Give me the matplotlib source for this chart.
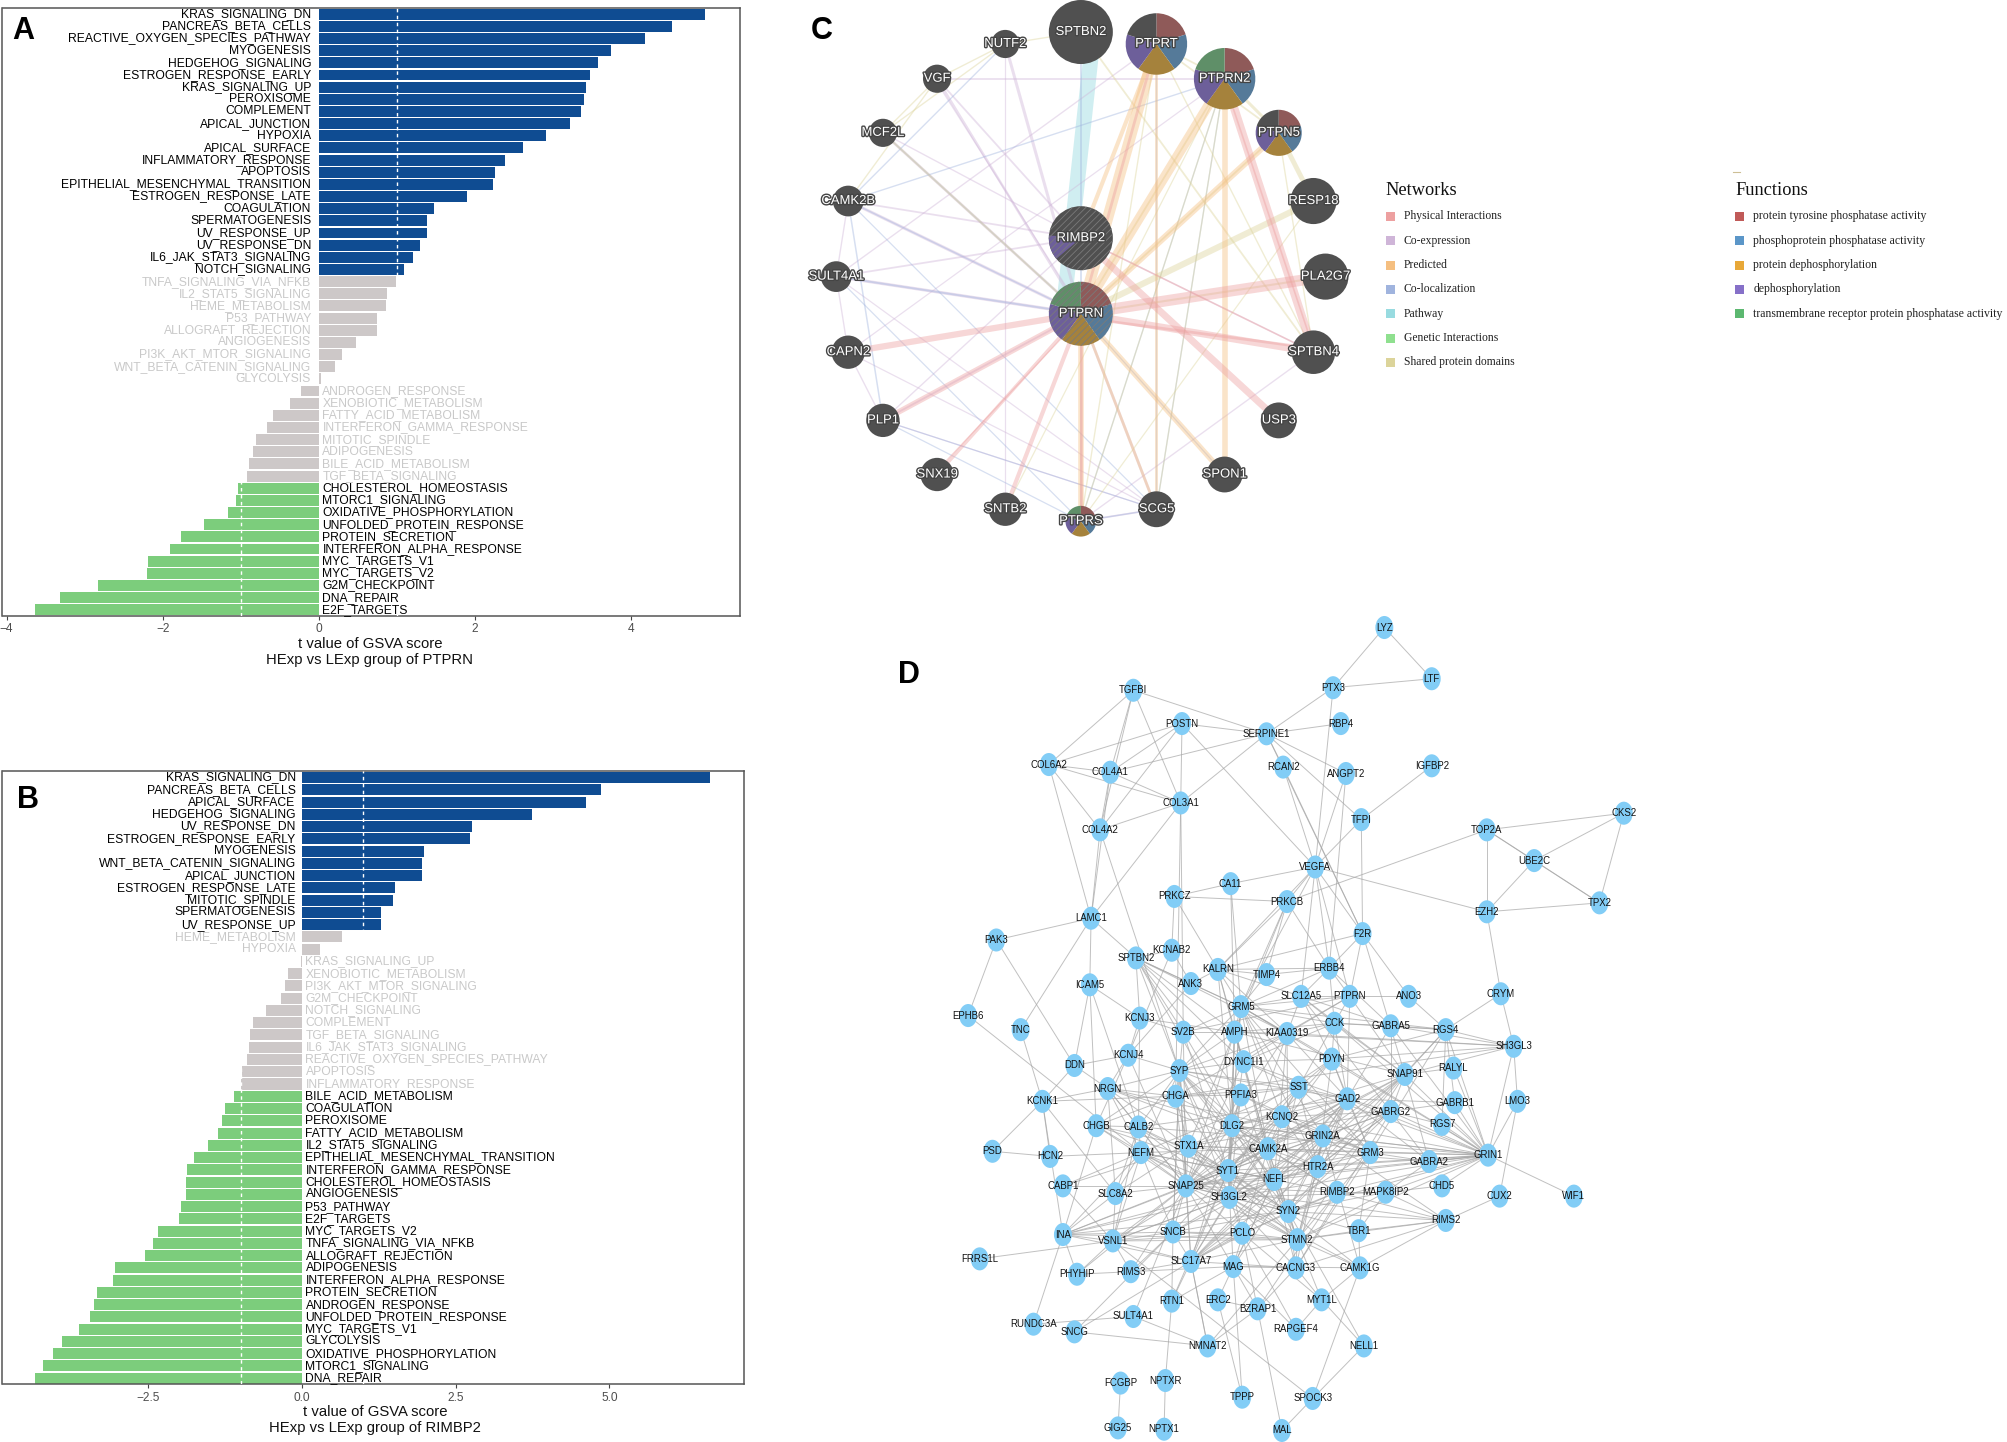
import numpy as np
import matplotlib
matplotlib.use("Agg")
import matplotlib.pyplot as plt
import matplotlib.patheffects as pe
from matplotlib.patches import Wedge, Ellipse, Circle, Rectangle

plt.rcParams['font.family'] = ['Liberation Sans', 'DejaVu Sans']
plt.rcParams['hatch.linewidth'] = 0.6

# ---------- Panel A data ----------
a_terms = ["KRAS_SIGNALING_DN","PANCREAS_BETA_CELLS","REACTIVE_OXYGEN_SPECIES_PATHWAY","MYOGENESIS","HEDGEHOG_SIGNALING",
 "ESTROGEN_RESPONSE_EARLY","KRAS_SIGNALING_UP","PEROXISOME","COMPLEMENT","APICAL_JUNCTION","HYPOXIA","APICAL_SURFACE",
 "INFLAMMATORY_RESPONSE","APOPTOSIS","EPITHELIAL_MESENCHYMAL_TRANSITION","ESTROGEN_RESPONSE_LATE","COAGULATION",
 "SPERMATOGENESIS","UV_RESPONSE_UP","UV_RESPONSE_DN","IL6_JAK_STAT3_SIGNALING","NOTCH_SIGNALING","TNFA_SIGNALING_VIA_NFKB",
 "IL2_STAT5_SIGNALING","HEME_METABOLISM","P53_PATHWAY","ALLOGRAFT_REJECTION","ANGIOGENESIS","PI3K_AKT_MTOR_SIGNALING",
 "WNT_BETA_CATENIN_SIGNALING","GLYCOLYSIS","ANDROGEN_RESPONSE","XENOBIOTIC_METABOLISM","FATTY_ACID_METABOLISM",
 "INTERFERON_GAMMA_RESPONSE","MITOTIC_SPINDLE","ADIPOGENESIS","BILE_ACID_METABOLISM","TGF_BETA_SIGNALING",
 "CHOLESTEROL_HOMEOSTASIS","MTORC1_SIGNALING","OXIDATIVE_PHOSPHORYLATION","UNFOLDED_PROTEIN_RESPONSE","PROTEIN_SECRETION",
 "INTERFERON_ALPHA_RESPONSE","MYC_TARGETS_V1","MYC_TARGETS_V2","G2M_CHECKPOINT","DNA_REPAIR","E2F_TARGETS"]
a_values = [4.95,4.52,4.17,3.745,3.58,3.47,3.42,3.40,3.35,3.21,2.91,2.615,2.38,2.26,2.23,1.89,1.48,1.39,1.385,1.30,1.20,1.09,
 0.99,0.87,0.865,0.745,0.74,0.47,0.30,0.20,0.03,-0.235,-0.37,-0.59,-0.67,-0.80,-0.85,-0.90,-0.925,
 -1.03,-1.06,-1.16,-1.47,-1.76,-1.91,-2.19,-2.20,-2.83,-3.32,-3.63]

# ---------- Panel B data ----------
b_terms = ["KRAS_SIGNALING_DN","PANCREAS_BETA_CELLS","APICAL_SURFACE","HEDGEHOG_SIGNALING","UV_RESPONSE_DN",
 "ESTROGEN_RESPONSE_EARLY","MYOGENESIS","WNT_BETA_CATENIN_SIGNALING","APICAL_JUNCTION","ESTROGEN_RESPONSE_LATE",
 "MITOTIC_SPINDLE","SPERMATOGENESIS","UV_RESPONSE_UP","HEME_METABOLISM","HYPOXIA","KRAS_SIGNALING_UP","XENOBIOTIC_METABOLISM",
 "PI3K_AKT_MTOR_SIGNALING","G2M_CHECKPOINT","NOTCH_SIGNALING","COMPLEMENT","TGF_BETA_SIGNALING","IL6_JAK_STAT3_SIGNALING",
 "REACTIVE_OXYGEN_SPECIES_PATHWAY","APOPTOSIS","INFLAMMATORY_RESPONSE","BILE_ACID_METABOLISM","COAGULATION","PEROXISOME",
 "FATTY_ACID_METABOLISM","IL2_STAT5_SIGNALING","EPITHELIAL_MESENCHYMAL_TRANSITION","INTERFERON_GAMMA_RESPONSE",
 "CHOLESTEROL_HOMEOSTASIS","ANGIOGENESIS","P53_PATHWAY","E2F_TARGETS","MYC_TARGETS_V2","TNFA_SIGNALING_VIA_NFKB",
 "ALLOGRAFT_REJECTION","ADIPOGENESIS","INTERFERON_ALPHA_RESPONSE","PROTEIN_SECRETION","ANDROGEN_RESPONSE",
 "UNFOLDED_PROTEIN_RESPONSE","MYC_TARGETS_V1","GLYCOLYSIS","OXIDATIVE_PHOSPHORYLATION","MTORC1_SIGNALING","DNA_REPAIR"]
b_values = [6.64,4.86,4.62,3.75,2.77,2.74,1.98,1.95,1.95,1.51,1.48,1.29,1.28,0.65,0.30,-0.01,-0.23,-0.27,-0.34,-0.58,-0.80,-0.85,
 -0.86,-0.89,-0.98,-0.99,-1.10,-1.26,-1.31,-1.36,-1.53,-1.76,-1.87,-1.88,-1.885,-1.97,-2.0,-2.34,-2.43,-2.56,-3.04,-3.08,
 -3.33,-3.39,-3.45,-3.63,-3.91,-4.05,-4.22,-4.35]

# ---------- Panel C data ----------
ring_genes = ["SPTBN2","PTPRT","PTPRN2","PTPN5","RESP18","PLA2G7","SPTBN4","USP3","SPON1","SCG5","PTPRS","SNTB2","SNX19",
              "PLP1","CAPN2","SULT4A1","CAMK2B","MCF2L","VGF","NUTF2"]
centre_genes = ["RIMBP2","PTPRN"]
gene_radius = {"SPTBN2":25,"PTPRT":24,"PTPRN2":24,"PTPN5":18,"RESP18":18,"PLA2G7":18,"SPTBN4":17,"USP3":14,"SPON1":14,
 "SCG5":14,"PTPRS":12,"SNTB2":13,"SNX19":13,"PLP1":13,"CAPN2":13,"SULT4A1":12,"CAMK2B":12,"MCF2L":11,"VGF":11,"NUTF2":11,
 "RIMBP2":25,"PTPRN":25}
network_names = ["Physical Interactions","Co-expression","Predicted","Co-localization","Pathway","Genetic Interactions","Shared protein domains"]
network_colors = ["#eda0a0","#cfb5d8","#f5bf80","#a0b4de","#98dbe0","#8fe08f","#dcd49a"]
function_names = ["protein tyrosine phosphatase activity","phosphoprotein phosphatase activity","protein dephosphorylation",
                  "dephosphorylation","transmembrane receptor protein phosphatase activity"]
function_colors = ["#c05a58","#5b96c8","#e8a838","#8670c8","#5cb870"]
node_dark = "#505050"
node_slices = {
 "PTPRN":  ["#8f5a59","#557a99","#a5823c","#6d5f9a","#5f8f68"],
 "PTPRN2": ["#8f5a59","#557a99","#a5823c","#6d5f9a","#5f8f68"],
 "PTPRS":  ["#8f5a59","#557a99","#a5823c","#6d5f9a","#5f8f68"],
 "PTPRT":  ["#8f5a59","#557a99","#a5823c","#6d5f9a",node_dark],
 "PTPN5":  ["#8f5a59","#557a99","#a5823c","#6d5f9a",node_dark],
}
edges_physical = [("PTPRN","PLA2G7",8),("PTPRN","SPTBN4",5),("PTPRN","SPTBN4",2),("PTPRN","CAPN2",4.5),("PTPRN","PLP1",4),
 ("PTPRN","SNX19",2.5),("PTPRN","SNTB2",3),("RIMBP2","USP3",5),("PTPRN2","SPTBN4",6),("PTPRN","PTPRT",2),("PTPRN","PTPRS",2),
 ("PTPRN2","SPTBN4",1.2),("RIMBP2","SPTBN4",1.2),("PTPRN","SNX19",1)]
edges_predicted = [("PTPRN","PTPRT",8),("PTPRN","PTPRN2",7),("PTPRN","PTPN5",4.5),("PTPRN2","SPON1",4),("PTPRN","SPON1",4),
 ("PTPRN","PTPRS",4),("PTPRT","SCG5",2),("PTPRT","RIMBP2",3),("PTPRN","SCG5",2)]
edges_pathway = [("SPTBN2","PTPRN",11)]
edges_coexpr = [("VGF","PTPRN",1.8),("VGF","PTPRN",1),("NUTF2","PTPRN",2.2),("MCF2L","PTPRN",2),("CAMK2B","PTPRN",2.2),
 ("SULT4A1","PTPRN",2.2),("SCG5","PTPRN",2),("PTPRS","SCG5",1.3),("VGF","PTPRN2",1.3),("VGF","RIMBP2",1.3),("SULT4A1","RIMBP2",1.3),
 ("CAMK2B","SULT4A1",1),("SULT4A1","CAPN2",1),("CAPN2","PLP1",1),("PLP1","PTPRN",1.3),("PLP1","RIMBP2",1),
 ("SPTBN4","PTPRS",1),("PTPRT","SULT4A1",1),("MCF2L","RIMBP2",1),("CAMK2B","RIMBP2",1.3),("PTPRN2","CAPN2",0.9),
 ("CAPN2","SCG5",0.9),("PTPRS","PTPRN",1.3),("RIMBP2","SPTBN4",1),("SULT4A1","SCG5",0.9),("NUTF2","SNTB2",0.9),("PLP1","SCG5",0.9)]
edges_coloc = [("SPTBN2","PTPRN",1.3),("NUTF2","CAMK2B",1),("PTPRN2","CAMK2B",1),("CAMK2B","PLP1",1.1),("SULT4A1","PTPRS",0.9),
 ("CAMK2B","SCG5",0.9),("PLP1","SCG5",0.9),("PLP1","PTPRS",0.9),("PTPRT","SCG5",1),("SULT4A1","PTPRN",1.3),("CAMK2B","PTPRN",1),
 ("PTPRN2","PTPRS",0.9),("PTPRS","SCG5",1),("PTPRN2","SCG5",0.9),("MCF2L","PTPRN",0.9),("SPON1","PTPRN",0.9)]
edges_domain = [("NUTF2","SPTBN2",1),("VGF","NUTF2",1),("MCF2L","VGF",1),("MCF2L","NUTF2",1),("CAMK2B","VGF",1),
 ("MCF2L","PTPRN",1.5),("PTPN5","RESP18",3.5),("RESP18","PTPRN",4.5),("PLA2G7","PTPRN",1.5),("PTPRT","PTPN5",1.3),("PTPRN2","PTPN5",2.2),
 ("PTPRN2","PTPRS",1),("PTPRT","PTPRS",1),("SPTBN2","SPTBN4",1.3),("PTPRT","SPTBN4",1),("PTPRN2","SCG5",1),
 ("PTPN5","PTPRN",1.3),("PTPRT","PTPRN2",1.3),("PTPRN2","SNTB2",0.9),("PTPRN2","PTPRN",1.3),("PTPN5","SPTBN4",1),("RESP18","PTPRS",0.9)]

# ---------- Panel D data ----------
gene_names = ["LYZ","LTF","PTX3","TGFBI","POSTN","SERPINE1","RBP4","COL6A2","COL4A1","RCAN2","ANGPT2","IGFBP2","COL3A1","TFPI","COL4A2",
 "TOP2A","CKS2","UBE2C","VEGFA","CA11","PRKCZ","PRKCB","EZH2","TPX2","LAMC1","PAK3","F2R","KCNAB2","SPTBN2","KALRN","TIMP4","ERBB4",
 "ANK3","ICAM5","SLC12A5","PTPRN","ANO3","CRYM","GRM5","EPHB6","TNC","KCNJ3","SV2B","AMPH","KIAA0319","CCK","GABRA5","RGS4","SH3GL3",
 "DDN","KCNJ4","SYP","DYNC1I1","PDYN","SNAP91","RALYL","KCNK1","NRGN","CHGA","PPFIA3","SST","GAD2","GABRG2","GABRB1","LMO3","CHGB",
 "CALB2","DLG2","KCNQ2","RGS7","STX1A","GRIN2A","CAMK2A","GRM3","GABRA2","GRIN1","PSD","HCN2","NEFM","SYT1","HTR2A","NEFL","SNAP25",
 "CABP1","SLC8A2","SH3GL2","RIMBP2","MAPK8IP2","CHD5","CUX2","WIF1","SYN2","RIMS2","INA","VSNL1","SNCB","PCLO","STMN2","TBR1","FRRS1L",
 "SLC17A7","MAG","CACNG3","CAMK1G","PHYHIP","RIMS3","RTN1","ERC2","BZRAP1","MYT1L","RUNDC3A","SULT4A1","SNCG","RAPGEF4","NMNAT2","NELL1",
 "FCGBP","NPTXR","TPPP","SPOCK3","GIG25","NPTX1","MAL"]
gene_x = [1081,1118,1041,885,923,989,1047,819,867,1002,1051,1118,922,1063,859,1161,1268,1198,1027,961,917,1005,1161,1249,852,778,1064,915,887,951,989,1038,
 930,851,1016,1054,1100,1172,969,756,797,890,924,964,1005,1042,1086,1129,1182,839,881,921,971,1040,1097,1135,814,865,918,969,1014,1052,1086,1136,1185,856,
 889,962,1001,1126,928,1033,990,1070,1116,1162,775,820,891,959,1029,995,926,830,871,960,1044,1082,1126,1171,1229,1006,1129,830,869,916,970,1013,1061,765,
 930,963,1012,1062,841,883,915,951,982,1032,807,885,839,1012,943,1065,875,910,970,1025,873,909,1001]
gene_y = [490,530,537,539,565,573,565,597,603,599,604,598,627,640,648,648,635,672,677,690,700,704,712,705,717,734,729,742,748,757,761,756,
 768,769,778,778,778,776,786,793,804,795,806,806,807,799,801,804,817,832,824,836,829,827,839,834,860,850,856,855,849,858,868,861,860,879,
 880,879,872,878,895,887,897,900,907,902,899,903,900,914,911,921,926,926,932,935,931,931,926,934,934,946,953,964,969,962,963,968,961,983,
 985,989,990,990,995,993,1016,1015,1022,1015,1034,1028,1040,1038,1051,1051,1080,1078,1091,1092,1115,1116,1117]
gene_links = {
 "LYZ":"PTX3 LTF","PTX3":"LTF SERPINE1 VEGFA","SERPINE1":"RBP4 TGFBI POSTN COL4A1 COL3A1 RCAN2 ANGPT2 TFPI F2R",
 "TGFBI":"COL6A2 COL4A1 COL4A2 COL3A1","POSTN":"COL6A2 COL4A1 COL3A1 COL4A2 VEGFA","COL6A2":"COL4A1 COL3A1 COL4A2 LAMC1",
 "COL4A1":"COL3A1 COL4A2 LAMC1","COL3A1":"COL4A2 LAMC1 SV2B CHGA","COL4A2":"LAMC1 SYP","RCAN2":"VEGFA F2R","ANGPT2":"VEGFA ERBB4",
 "IGFBP2":"TFPI","TFPI":"VEGFA F2R","TOP2A":"CKS2 UBE2C TPX2 EZH2 PRKCB","CKS2":"UBE2C TPX2","UBE2C":"TPX2 EZH2","EZH2":"TPX2 VEGFA CRYM",
 "VEGFA":"CA11 PRKCB F2R KALRN GRM5 ERBB4 SLC12A5 PTPRN","CA11":"PRKCZ AMPH GRM5","PRKCZ":"PRKCB KCNAB2 KALRN",
 "PRKCB":"KALRN GRM5 ERBB4 TIMP4 AMPH","LAMC1":"PAK3 ICAM5 SPTBN2 TNC","PAK3":"EPHB6 DDN","EPHB6":"NEFM","TNC":"KCNK1",
 "KCNAB2":"SPTBN2 ANK3 KCNJ4","F2R":"ANO3 PTPRN KALRN ERBB4 SNAP91","CRYM":"RGS4 SH3GL3",
 "GRIN1":"GABRA2 GRM3 CAMK2A GRIN2A HTR2A SNAP91 GAD2 GABRG2 SNAP25 SYT1 RIMBP2 MAPK8IP2 CHD5 SYN2 STMN2 GABRA5 RGS4 RGS7 GABRB1 WIF1 LMO3 NEFL SH3GL2 DLG2 KCNQ2 CALB2 GRM5 PDYN CCK SST RALYL",
 "LMO3":"SH3GL3 CUX2","CUX2":"RIMS2","RIMS2":"CAMK1G STMN2 SYN2 TBR1 CACNG3 MAPK8IP2 RIMBP2 SNAP25",
 "SNAP25":"SYT1 SH3GL2 SYN2 STMN2 SNCB VSNL1 INA SLC17A7 CAMK2A DLG2 STX1A SYP CHGA CHGB CALB2 NEFM NEFL HTR2A GRIN2A GAD2 SNAP91 GRM3 GABRG2 KCNQ2 PPFIA3 AMPH DYNC1I1 SV2B PCLO MAG RIMBP2 RIMS3 PHYHIP SLC8A2 CABP1 NRGN KIAA0319 SST",
 "SYT1":"STX1A SYP SV2B AMPH DLG2 CAMK2A SH3GL2 SNCB PCLO SLC17A7 SYN2 NEFL KCNQ2 PPFIA3 CHGA CHGB GAD2 SNAP91 RIMBP2 STMN2 MAG VSNL1 INA GRM5 PDYN SST DYNC1I1 CALB2 NEFM",
 "CAMK2A":"GRIN2A DLG2 SYN2 KCNQ2 HTR2A NEFL GRM3 GABRA2 SYP STX1A NRGN NEFM SH3GL2 MAG STMN2 RIMBP2 GAD2 GRM5 AMPH KALRN",
 "SLC17A7":"SYN2 STMN2 SNCB VSNL1 RTN1 GAD2 GRM3 CACNG3 PCLO SH3GL2 SYP INA GABRG2 GRIN2A SNAP91 DLG2 NMNAT2 SST",
 "GAD2":"GABRG2 GABRA2 GABRA5 SST PDYN CCK SYP DYNC1I1 CALB2 DLG2 STMN2 HTR2A GRM3 NEFL GRIN2A KIAA0319 SYN2 GABRB1 MAG",
 "GABRG2":"GABRA2 GABRA5 GABRB1 GRIN2A HTR2A KCNQ2 STX1A CACNG3 SYN2 RGS7 NEFL",
 "GRIN2A":"DLG2 HTR2A GRM3 KCNQ2 SYN2 CAMK1G CACNG3 GRM5 NRGN RIMS2 STMN2 SH3GL2",
 "GRM5":"KALRN ANK3 AMPH KIAA0319 SPTBN2 TIMP4 SLC12A5 CCK PDYN SYP KCNQ2 GRM3 HTR2A SV2B ERBB4 PTPRN DLG2 RGS4",
 "SPTBN2":"ANK3 KIAA0319 AMPH DLG2 PPFIA3 SV2B SYP KCNJ3 DYNC1I1","KALRN":"ANK3 TIMP4 ERBB4 AMPH KIAA0319 SLC12A5 DLG2",
 "ERBB4":"PTPRN SLC12A5 TIMP4 CCK GABRA5","PTPRN":"ANO3 SLC12A5 CCK KIAA0319 GAD2 SNAP91 SV2B CHGA",
 "SLC12A5":"CCK PDYN KIAA0319 GABRA5 GABRG2 SNAP91","CCK":"PDYN SST GABRA5 RGS4 AMPH KIAA0319 SNAP91 DYNC1I1","ANO3":"RGS4",
 "SH3GL3":"SNAP91 RGS4 GABRA5 KIAA0319 PDYN AMPH CHGA GRIN1","SNAP91":"GABRA2 GABRG2 RGS4 RALYL AMPH DLG2 SH3GL2 NEFL SYN2 STMN2",
 "RGS4":"GABRA5 GABRB1 GRM3 RGS7 HTR2A PDYN","KCNK1":"DDN NRGN HCN2 PSD INA CHGA SLC8A2","PSD":"HCN2","HCN2":"NEFM","DDN":"KCNJ4 NRGN ICAM5",
 "KCNJ3":"KCNJ4 SV2B CALB2 AMPH","KCNJ4":"SYP NRGN CHGB SNAP25 ANK3","ICAM5":"KCNJ3 CHGB CALB2","NRGN":"CHGA CALB2 STX1A NEFM SLC8A2 DLG2",
 "CHGB":"CHGA CALB2 INA NEFM SYP STX1A","CHGA":"SYP STX1A DLG2 PPFIA3 SST","CABP1":"NEFM STX1A VSNL1","SLC8A2":"VSNL1 STX1A CALB2 NEFM INA",
 "INA":"VSNL1 NEFM NEFL SNCB STMN2 RUNDC3A PHYHIP SYN2","VSNL1":"FRRS1L SNCB PHYHIP RIMS3 CALB2 SH3GL2 PCLO STMN2 SPOCK3","RUNDC3A":"SULT4A1",
 "SNCG":"NMNAT2 SNCB SLC17A7","SULT4A1":"NMNAT2 SNAP25","SNCB":"RTN1 NEFL SYP PCLO STMN2 SYN2","RTN1":"NPTXR MAG SYT1","RIMS3":"PHYHIP SLC17A7 MAG SNCB",
 "MAG":"ERC2 CACNG3 NEFL RAPGEF4 CAMK1G","ERC2":"BZRAP1 TPPP","BZRAP1":"RIMBP2 PCLO CACNG3 MAG MAL NMNAT2","PCLO":"RAPGEF4 STMN2 MYT1L RIMBP2 SH3GL2",
 "MYT1L":"CACNG3 CAMK1G RAPGEF4 STMN2 NELL1","NMNAT2":"SLC17A7 STMN2","CAMK1G":"SPOCK3 STMN2 TBR1 SYN2 SH3GL2","NELL1":"SPOCK3 SYN2","SPOCK3":"MAL",
 "FCGBP":"GIG25","NPTXR":"NPTX1","TPPP":"MAG","PPFIA3":"DLG2 SYP KCNQ2 SST GRM3 NEFL SH3GL2","STX1A":"SYP DLG2 SH3GL2 CAMK2A HTR2A GAD2 SYN2 STMN2","DLG2":"KCNQ2 GRM3 HTR2A NEFL SH3GL2 STMN2 RIMBP2 SYP AMPH PDYN",
 "SST":"PDYN KCNQ2 NEFL GRM3 DYNC1I1 SYP NEFM HTR2A","PDYN":"HTR2A DYNC1I1 GRM3 SH3GL2","AMPH":"SYP DYNC1I1 SH3GL2 KIAA0319 SV2B STX1A NEFL","KIAA0319":"DYNC1I1 SYP SYN2 SH3GL2 NEFL","TBR1":"STMN2 SYN2 MAPK8IP2 GRM3",
 "SYN2":"SYP STMN2 NEFL RIMBP2 MAPK8IP2 SH3GL2 CACNG3 SV2B NEFM CALB2","NEFL":"NEFM STMN2 HTR2A SYP SH3GL2 MAG","MAPK8IP2":"GABRA2 CHD5 RIMBP2 STMN2 SH3GL2","CACNG3":"STMN2 GRM3 NEFL SH3GL2",
 "SYP":"SV2B DYNC1I1 SH3GL2 NEFM CALB2 NRGN SNCB","SH3GL2":"NEFM CALB2 SNCB VSNL1 STMN2 INA","NEFM":"CALB2 SNCB VSNL1 STMN2","HTR2A":"GRM3 KCNQ2 STMN2 SH3GL2","GRM3":"GABRA2 KCNQ2 STMN2",
}

pathway_shift = {"SPTBN2": 10, "PTPRN": -14}

# ---------- helpers ----------
W, H = 2008, 1442
fig = plt.figure(figsize=(W/100, H/100), dpi=100, facecolor="white")

def px_axes(l, t, r, b, **kw):
    return fig.add_axes([l/W, 1-b/H, (r-l)/W, (b-t)/H], **kw)

def bar_panel(box, zero_x, per_unit, terms, values, first_row, row_step, ticks, ticklabels, gene, lab_x, lab_y, tick_pad, pos_off):
    l, t, r, b = box
    ax = px_axes(l, t, r, b)
    ax.set_xlim((l-zero_x)/per_unit, (r-zero_x)/per_unit)
    ax.set_ylim((b-first_row)/row_step, (t-first_row)/row_step)
    vals = np.array(values)
    cols = ["#0f4c92" if v > 1 else "#7ccd7c" if v < -1 else "#cdc8c8" for v in vals]
    y = np.arange(len(vals))
    ax.barh(y, vals, height=0.9, color=cols, zorder=2)
    for v in (-1, 1):
        ax.axvline(v, color="white", lw=1.0, ls=(0, (2.5, 2.5)), zorder=3)
    for yi, v, term in zip(y, vals, terms):
        col = "black" if abs(v) > 1 else "#c9c9c9"
        ax.text(-pos_off/per_unit if v > 0 else 3.5/per_unit, yi, term, ha="right" if v > 0 else "left", va="center",
                fontsize=8.75, color=col, zorder=4)
    ax.set_yticks([])
    ax.set_xticks(ticks)
    ax.set_xticklabels(ticklabels, fontsize=8.6, color="#4d4d4d")
    ax.tick_params(axis="x", length=3, width=0.8, color="#444444", pad=tick_pad)
    for s in ax.spines.values():
        s.set_color("#555555")
        s.set_linewidth(1.1)
    fig.text(lab_x/W, 1-lab_y[0]/H, "t value of GSVA score", ha="center", va="center", fontsize=10.7, color="#111111")
    fig.text(lab_x/W, 1-lab_y[1]/H, "HExp vs LExp group of "+gene, ha="center", va="center", fontsize=10.7, color="#111111")
    return ax

bar_panel((2.5, 7.7, 740, 616), 318.9, 78.1, a_terms, a_values, 14.2, 12.155,
          [-4,-2,0,2,4], ["\u22124","\u22122","0","2","4"], "PTPRN", 370, (644, 660), 2, 7.8)
bar_panel((2.5, 771, 744, 1384), 302, 61.45, b_terms, b_values, 777.5, 12.26,
          [-2.5,0,2.5,5], ["\u22122.5","0.0","2.5","5.0"], "RIMBP2", 375, (1412, 1428), 3, 6.3)

# overlay axes in units of the 1568-wide layout
ov = fig.add_axes([0, 0, 1, 1], facecolor="none")
ov.set_xlim(0, 1568)
ov.set_ylim(1126, 0)
ov.axis("off")

for letter, x, y in (("A", 18, 24), ("B", 22, 625), ("C", 642, 24), ("D", 710, 527)):
    ov.text(x, y, letter, fontsize=22, fontweight="bold", ha="center", va="center", color="black", zorder=20)

# ---------- Panel C ----------
cx, cy, R = 844, 216, 191
pos = {}
for i, g in enumerate(ring_genes):
    th = np.deg2rad(18*i)
    pos[g] = (cx + R*np.sin(th), cy - R*np.cos(th))
pos["RIMBP2"] = (cx, cy-30)
pos["PTPRN"] = (cx, cy+29)

for a, b, w in edges_pathway:
    ov.plot([pos[a][0]+pathway_shift[a], pos[b][0]+pathway_shift[b]], [pos[a][1], pos[b][1]],
            color=network_colors[4], lw=w, alpha=0.45, solid_capstyle="butt", zorder=3)
edge_sets = [(edges_coexpr, network_colors[1]), (edges_coloc, network_colors[3]), (edges_domain, network_colors[6]),
             (edges_predicted, network_colors[2]), (edges_physical, network_colors[0])]
for edges, col in edge_sets:
    for k, (a, b, w) in enumerate(edges):
        seen = sum(1 for e in edges[:k] if e[0] == a and e[1] == b)
        shift = 3*seen
        ov.plot([pos[a][0], pos[b][0]], [pos[a][1]+shift, pos[b][1]-shift], color=col, lw=w, alpha=0.42,
                solid_capstyle="butt", zorder=3)

for g in ring_genes + centre_genes:
    x, y = pos[g]
    r = gene_radius[g]
    if g in node_slices:
        for i, c in enumerate(node_slices[g]):
            ov.add_patch(Wedge((x, y), r, -90+72*i, -90+72*(i+1), facecolor=c, edgecolor="none", zorder=5))
    elif g == "RIMBP2":
        ov.add_patch(Circle((x, y), r, facecolor=node_dark, edgecolor="none", zorder=5))
        ov.add_patch(Wedge((x, y), r, 140, 185, facecolor="#6d5f9a", edgecolor="none", zorder=5))
    else:
        ov.add_patch(Circle((x, y), r, facecolor=node_dark, edgecolor="none", zorder=5))
    if g in centre_genes:
        ov.add_patch(Circle((x, y), r, facecolor="none", edgecolor="#7a7a7a", hatch="/////", lw=0, zorder=6))
    ov.text(x, y, g, color="white", fontsize=9.4, ha="center", va="center", zorder=7,
            path_effects=[pe.withStroke(linewidth=2.0, foreground="#444444")])

for k, (name, col) in enumerate(zip(network_names, network_colors)):
    yy = 169 + 19*k
    ov.add_patch(Rectangle((1082, yy-3.5), 7, 7, facecolor=col, edgecolor="none"))
    ov.text(1096, yy, name, fontsize=8.35, family="Liberation Serif", va="center", ha="left", color="#222222")
for k, (name, col) in enumerate(zip(function_names, function_colors)):
    yy = 169 + 19*k
    ov.add_patch(Rectangle((1355, yy-3.5), 7, 7, facecolor=col, edgecolor="none"))
    ov.text(1369, yy, name, fontsize=8.45, family="Liberation Serif", va="center", ha="left", color="#222222")
ov.text(1082, 149, "Networks", fontsize=13.2, family="Liberation Serif", va="center", ha="left", color="#111111")
ov.text(1355, 149, "Functions", fontsize=13.2, family="Liberation Serif", va="center", ha="left", color="#111111")
ov.plot([1353, 1359], [134, 134], color="#cdbf95", lw=0.8)

# ---------- Panel D ----------
gpos = dict(zip(gene_names, zip(gene_x, gene_y)))
for a, others in gene_links.items():
    for b in others.split():
        ov.plot([gpos[a][0], gpos[b][0]], [gpos[a][1], gpos[b][1]], color="#a6a6a6", lw=0.7, alpha=0.7, zorder=3)
for g, x, y in zip(gene_names, gene_x, gene_y):
    ov.add_patch(Ellipse((x, y), 14, 18, facecolor="#82cdf6", edgecolor="none", zorder=5))
    ov.text(x, y, g, fontsize=6.9, color="#111111", ha="center", va="center", zorder=6)

fig.savefig("out.png", dpi=100, facecolor="white")
